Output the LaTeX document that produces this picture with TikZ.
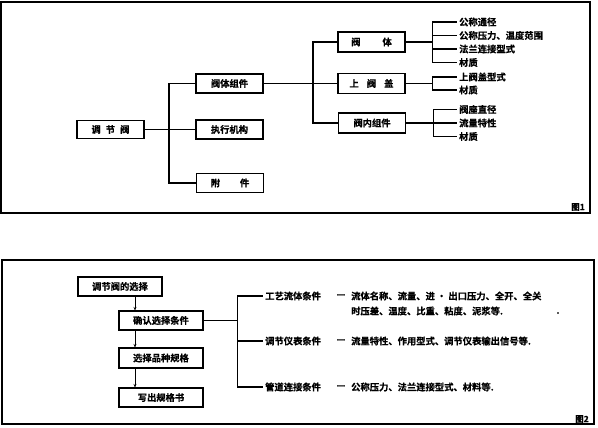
\documentclass[tikz,border=0pt]{standalone}
\usepackage{fontspec}
\setmainfont{Noto Sans CJK SC Bold}[FakeBold=0.6]
\usetikzlibrary{arrows.meta}
\begin{document}
\begin{tikzpicture}[x=1pt,y=-1pt,
  every node/.style={font=\fontsize{9.3}{11}\selectfont},
  box/.style={draw,line width=1.1pt,minimum width=67pt,minimum height=19pt,inner sep=0pt},
  wbox/.style={draw,line width=1.1pt,minimum width=84pt,minimum height=19pt,inner sep=0pt},
  leaf/.style={anchor=west,inner sep=2pt},
  conn/.style={line width=1.1pt},
  arr/.style={line width=0.8pt,-{Stealth[length=3.5pt,width=3pt]}},
  frame/.style={line width=1.2pt}]
\useasboundingbox (0,0) rectangle (598,428);
% ---------- Figure 1 ----------
\draw[frame] (1,2) rectangle (590,213);
\node[box,minimum height=18pt] (root) at (110.5,129.5) {调\hspace{5pt}节\hspace{5pt}阀};
\node[box] (g1) at (229.5,83.5) {阀体组件};
\node[box] (g2) at (229.5,129.5) {执行机构};
\node[box] (g3) at (230,183) {附\hspace{20pt}件};
\node[box,minimum height=20pt] (h1) at (371.5,42) {阀\hspace{22pt}体};
\node[box,minimum height=20pt] (h2) at (371.5,83.5) {上\hspace{8pt}阀\hspace{8pt}盖};
\node[box,minimum height=20pt] (h3) at (372,123) {阀内组件};
\draw[conn] (root.east) -- (g2.west);
\coordinate (t1) at (169,83.5);
\draw[conn] (g1.west) -- (t1) |- (g3.west);
\draw[conn] (g1.east) -- (h2.west);
\coordinate (t2) at (313,42);
\draw[conn] (h1.west) -- (t2) |- (h3.west);
% leaves
\node[leaf] (l11) at (457,22) {公称通径};
\node[leaf] (l12) at (457,35.5) {公称压力、温度范围};
\node[leaf] (l13) at (457,49) {法兰连接型式};
\node[leaf] (l14) at (457,62.5) {材质};
\node[leaf] (l21) at (457,77) {上阀盖型式};
\node[leaf] (l22) at (457,90) {材质};
\node[leaf] (l31) at (457,109.5) {阀座直径};
\node[leaf] (l32) at (457,123) {流量特性};
\node[leaf] (l33) at (457,136.5) {材质};
\foreach \l in {l11,l12,l13,l14}{\draw[conn] (h1.east) -- ++(27,0) |- (\l.west);}
\foreach \l in {l21,l22}{\draw[conn] (h2.east) -- ++(27,0) |- (\l.west);}
\foreach \l in {l31,l32,l33}{\draw[conn] (h3.east) -- ++(27,0) |- (\l.west);}
\node[font=\fontsize{8.5}{10}\selectfont] (fig1) at (578,207) {图1};
% ---------- Figure 2 ----------
\draw[frame] (2,260) rectangle (594,424);
\node[wbox] (f1) at (120,286.5) {调节阀的选择};
\node[wbox] (f2) at (161,320.5) {确认选择条件};
\node[wbox,minimum height=20pt] (f3) at (161,358) {选择品种规格};
\node[wbox] (f4) at (161,397.5) {写出规格书};
\coordinate (ax) at (135,0);
\draw[arr] (f1.south -| ax) -- (f2.north -| ax);
\draw[arr] (f2.south -| ax) -- (f3.north -| ax);
\draw[arr] (f3.south -| ax) -- (f4.north -| ax);
\node[leaf] (c1) at (263,296) {工艺流体条件};
\node[leaf] (c2) at (263,341) {调节仪表条件};
\node[leaf] (c3) at (263,387) {管道连接条件};
\foreach \c in {c1,c2,c3}{\draw[conn] (f2.east) -- ++(34,0) |- (\c.west);}
\node (d1) at (341,296) {—};
\node (d2) at (341,341) {—};
\node (d3) at (341,387) {—};
\node[leaf] (e1) at (349,296) {流体名称、流量、进 · 出口压力、全开、全关};
\node[leaf] (e1b) at (349,311) {时压差、温度、比重、粘度、泥浆等.};
\node (dot) at (558,313) {.};
\node[leaf] (e2) at (349,341) {流量特性、作用型式、调节仪表输出信号等.};
\node[leaf] (e3) at (349,387) {公称压力、法兰连接型式、材料等.};
\node[font=\fontsize{8.5}{10}\selectfont] (fig2) at (582,419) {图2};
\end{tikzpicture}
\end{document}
